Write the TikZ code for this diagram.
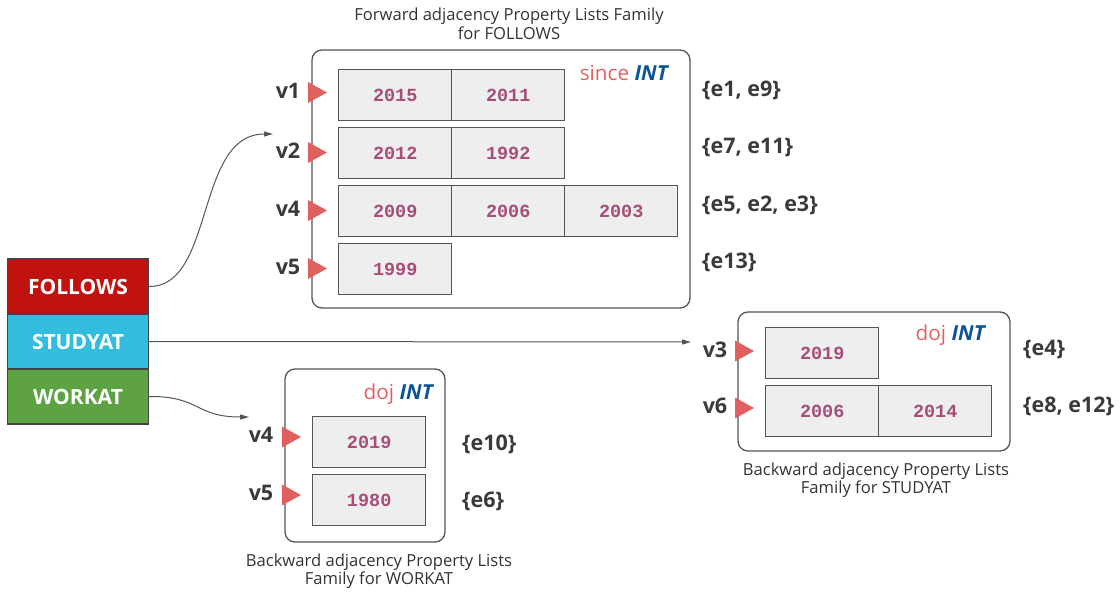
\documentclass[tikz,border=0pt]{standalone}
\usepackage{fontspec}
\setmainfont{Open Sans}
\newfontfamily\cellfont{Liberation Mono}
\usetikzlibrary{arrows.meta}

\definecolor{linegray}{HTML}{555555}
\definecolor{labelgray}{HTML}{3A3A3A}
\definecolor{captiongray}{HTML}{333333}
\definecolor{cellfill}{HTML}{EEEEEE}
\definecolor{numpurple}{HTML}{A64D79}
\definecolor{markred}{HTML}{E06060}
\definecolor{typeblue}{HTML}{0B5394}
\definecolor{followsred}{HTML}{C0120F}
\definecolor{studyblue}{HTML}{32BCDD}
\definecolor{workgreen}{HTML}{5DA343}

\tikzset{
  container/.style={draw=linegray, line width=1.3pt, rounded corners=10pt},
  cellbox/.style={draw=linegray, fill=cellfill, line width=1.4pt, anchor=north west,
    minimum width=113pt, minimum height=51pt, inner sep=0pt, text=numpurple,
    font=\cellfont\bfseries\fontsize{18.5}{22}\selectfont},
  relbox/.style={draw=linegray!80!black, line width=1.2pt, minimum width=141pt,
    minimum height=55pt, inner sep=0pt, text=white,
    font=\bfseries\fontsize{21}{25}\selectfont},
  vlabel/.style={anchor=base, text=labelgray, inner sep=0pt,
    font=\bfseries\fontsize{21.5}{25}\selectfont},
  eset/.style={anchor=base west, text=labelgray, inner sep=0pt,
    font=\bfseries\fontsize{21.5}{25}\selectfont},
  proptype/.style={anchor=base east, inner sep=0pt, font=\fontsize{20.7}{25}\selectfont},
  caption/.style={align=center, text=captiongray, inner sep=0pt,
    font=\fontsize{16.6}{18.5}\selectfont},
  link/.style={draw=linegray, line width=1pt, -{Triangle[length=9pt,width=5pt]}},
  vmark/.style={fill=markred},
}
\newcommand{\propname}[2]{\textcolor{markred}{#1} \textcolor{typeblue}{\bfseries\itshape #2}}

\begin{document}
\begin{tikzpicture}[x=1pt, y=-1pt]
\useasboundingbox (0,0) rectangle (1120,595);

% ---------- relation types ----------
\node[relbox, fill=followsred] (follows) at (78,286.5) {FOLLOWS};
\node[relbox, fill=studyblue]  (studyat) at (78,341.5) {STUDYAT};
\node[relbox, fill=workgreen]  (workat)  at (78,396.5) {WORKAT};

% ---------- forward lists for FOLLOWS ----------
\node[caption] (capF) at (509,24) {Forward adjacency Property Lists Family\\for FOLLOWS};
\draw[container] (312,50) rectangle (690,308);
\node[proptype] (typeF) at (668,80) {\propname{since}{INT}};

\node[cellbox] (f11) at (338,69)  {2015};
\node[cellbox] (f12) at (451,69)  {2011};
\node[cellbox] (f21) at (338,127) {2012};
\node[cellbox] (f22) at (451,127) {1992};
\node[cellbox] (f31) at (338,185) {2009};
\node[cellbox] (f32) at (451,185) {2006};
\node[cellbox] (f33) at (564,185) {2003};
\node[cellbox] (f41) at (338,243) {1999};

\node[vlabel] (fv1) at (288,98)  {v1};
\node[vlabel] (fv2) at (288,158) {v2};
\node[vlabel] (fv4) at (288,216) {v4};
\node[vlabel] (fv5) at (288,274) {v5};
\foreach \y in {92.5,152.5,210.5,268.5}
  \fill[vmark] (308,\y-10.5) -- (327,\y) -- (308,\y+10.5) -- cycle;

\node[eset] (fe1) at (702,96)  {\{e1, e9\}};
\node[eset] (fe2) at (702,153) {\{e7, e11\}};
\node[eset] (fe3) at (702,211) {\{e5, e2, e3\}};
\node[eset] (fe4) at (702,268) {\{e13\}};

% ---------- backward lists for STUDYAT ----------
\draw[container] (738,312) rectangle (1010,451);
\node[proptype] (typeS) at (985,340) {\propname{doj}{INT}};
\node[cellbox] (s11) at (765,327) {2019};
\node[cellbox] (s21) at (765,385) {2006};
\node[cellbox] (s22) at (878,385) {2014};
\node[vlabel] (sv3) at (715,357) {v3};
\node[vlabel] (sv6) at (715,413) {v6};
\foreach \y in {351,408}
  \fill[vmark] (735,\y-10.5) -- (754,\y) -- (735,\y+10.5) -- cycle;
\node[eset] (se1) at (1023,355) {\{e4\}};
\node[eset] (se2) at (1023,412) {\{e8, e12\}};
\node[caption] (capS) at (876,480) {Backward adjacency Property Lists\\Family for STUDYAT};

% ---------- backward lists for WORKAT ----------
\draw[container] (285,369) rectangle (445,542);
\node[proptype] (typeW) at (433,399) {\propname{doj}{INT}};
\node[cellbox] (w11) at (312,416) {2019};
\node[cellbox] (w21) at (312,474) {1980};
\node[vlabel] (wv4) at (261,442) {v4};
\node[vlabel] (wv5) at (261,500) {v5};
\foreach \y in {437,495}
  \fill[vmark] (282,\y-10.5) -- (301,\y) -- (282,\y+10.5) -- cycle;
\node[eset] (we1) at (462,450) {\{e10\}};
\node[eset] (we2) at (462,507) {\{e6\}};
\node[caption] (capW) at (379,571) {Backward adjacency Property Lists\\Family for WORKAT};

% ---------- links from relation types to their list families ----------
\coordinate (inF) at (273,134);
\coordinate (inS) at (691,342);
\coordinate (inW) at (249,417);
\draw[link] (follows.east) .. controls (215,287) and (195,134) .. (inF);
\draw[link] (studyat.east) -- (inS);
\draw[link] (workat.east) .. controls (200,396) and (195,417) .. (inW);
\end{tikzpicture}
\end{document}
